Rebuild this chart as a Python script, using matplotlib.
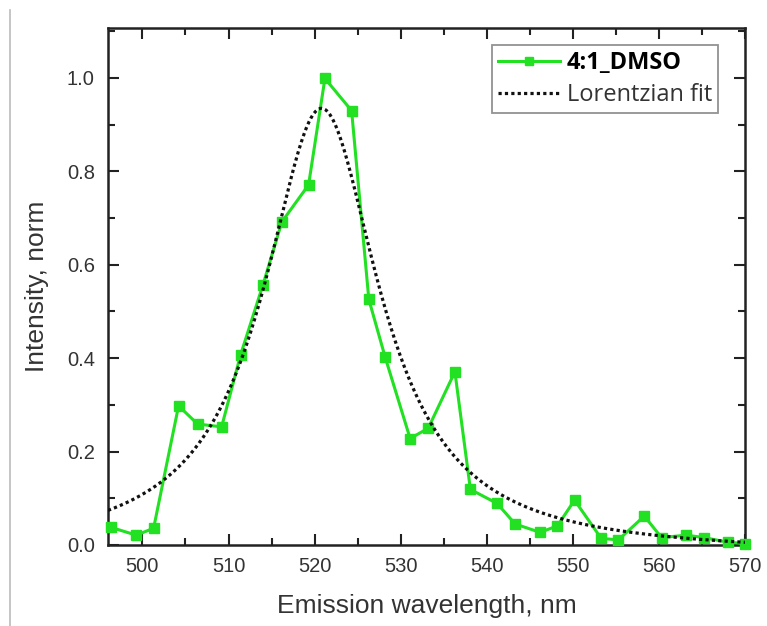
import matplotlib
matplotlib.use("Agg")
import matplotlib.pyplot as plt
import numpy as np
from matplotlib.ticker import MultipleLocator
from matplotlib.lines import Line2D

# Measured data (4:1_DMSO)
wavelength = [496.3, 499.3, 501.3, 504.2, 506.4, 509.2, 511.4, 514.0, 516.2, 519.3,
              521.2, 524.3, 526.3, 528.2, 531.1, 533.2, 536.3, 538.1, 541.2, 543.3,
              546.2, 548.2, 550.2, 553.3, 555.3, 558.3, 560.3, 563.2, 565.2, 568.0, 570.0]
intensity = [0.038, 0.021, 0.036, 0.298, 0.259, 0.253, 0.407, 0.557, 0.692, 0.771,
             0.999, 0.930, 0.526, 0.402, 0.228, 0.250, 0.371, 0.119, 0.089, 0.045,
             0.027, 0.041, 0.096, 0.014, 0.011, 0.062, 0.016, 0.021, 0.016, 0.006, 0.003]

# Lorentzian fit parameters
fit_center = 520.8
fit_halfwidth = 8.2
fit_amplitude = 0.955
fit_offset = -0.02

series_label = "4:1_DMSO"
fit_label = "Lorentzian fit"
x_ticks = [500, 510, 520, 530, 540, 550, 560, 570]
y_ticks = [0.0, 0.2, 0.4, 0.6, 0.8, 1.0]

fig = plt.figure(figsize=(7.67, 6.26), dpi=100)
ax = fig.add_axes([108/767, 81/626, 637/767, 517/626])

xf = np.linspace(496, 570, 400)
yf = fit_offset + fit_amplitude * fit_halfwidth**2 / (fit_halfwidth**2 + (xf - fit_center)**2)

green = "#22e022"
ax.plot(wavelength, intensity, color=green, lw=2.2, marker="s", ms=7.5,
        mfc=green, mec=green, label=series_label, zorder=3, clip_on=False)
ax.plot(xf, yf, color="#111111", lw=2.3, linestyle=(0, (1, 1.0)), label=fit_label, zorder=4)

ax.set_xlim(496, 570)
ax.set_ylim(0, 1.107)
ax.set_xticks(x_ticks)
ax.set_yticks(y_ticks)
ax.set_yticklabels([f"{v:.1f}" for v in y_ticks])
ax.xaxis.set_minor_locator(MultipleLocator(5))
ax.yaxis.set_minor_locator(MultipleLocator(0.1))
ax.tick_params(which="both", direction="in", top=True, right=True, width=1.5,
               colors="#222222")
ax.tick_params(axis="both", labelsize=14.5, labelcolor="#333333")
ax.tick_params(which="major", length=8)
ax.tick_params(axis="x", which="major", pad=8.5)
ax.tick_params(axis="y", which="major", pad=9.5)
ax.tick_params(which="minor", length=5)
for lab in ax.get_xticklabels() + ax.get_yticklabels():
    lab.set_fontfamily("Liberation Sans")
for s in ax.spines.values():
    s.set_linewidth(1.8)
    s.set_color("#222222")

ax.set_xlabel("Emission wavelength, nm", fontsize=19, family="Liberation Sans",
              color="#333333", labelpad=13)
ax.set_ylabel("Intensity, norm", fontsize=19, family="Liberation Sans",
              color="#333333", labelpad=13)

leg = ax.legend(loc="upper right", bbox_to_anchor=(0.9576, 0.967), borderaxespad=0,
                numpoints=1, handlelength=2.6, frameon=True, fancybox=False,
                borderpad=0.25, labelspacing=0.35, handletextpad=0.3,
                prop={"family": "Open Sans", "size": 17})
leg.get_frame().set_edgecolor("#777777")
leg.get_frame().set_linewidth(1.3)
texts = leg.get_texts()
texts[0].set_fontweight("bold")
texts[0].set_color("black")
texts[1].set_color("#333333")
for h in leg.legend_handles:
    h.set_markersize(6)

# page border line at left
fig.add_artist(Line2D([10/767, 10/767], [0, 1 - 10/626], transform=fig.transFigure,
                      color="#bbbbbb", lw=1.2))

fig.savefig("out.png", dpi=100)
